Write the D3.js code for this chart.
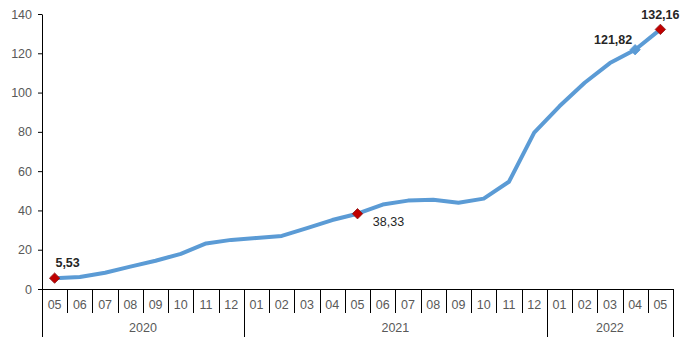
<!DOCTYPE html>
<html>
<head>
<meta charset="utf-8">
<script src="https://cdn.jsdelivr.net/npm/d3@7"></script>
<style>
  html, body { margin: 0; padding: 0; background: #fff; }
  svg { display: block; font-family: "Liberation Sans", Arial, sans-serif; }
</style>
</head>
<body>
<svg id="chart" width="688" height="344"></svg>
<script>
// Monthly series, 2020-05 .. 2022-05
const months = ["05","06","07","08","09","10","11","12",
                "01","02","03","04","05","06","07","08","09","10","11","12",
                "01","02","03","04","05"];
const years = ["2020","2020","2020","2020","2020","2020","2020","2020",
               "2021","2021","2021","2021","2021","2021","2021","2021","2021","2021","2021","2021",
               "2022","2022","2022","2022","2022"];
const values = [5.53, 6.1, 8.3, 11.4, 14.4, 17.9, 23.2, 25.0,
                26.0, 27.0, 31.0, 35.1, 38.33, 43.0, 45.0, 45.4, 43.9, 46.0, 54.6, 79.6,
                93.0, 105.0, 115.0, 121.82, 132.16];
const yTicks = [0, 20, 40, 60, 80, 100, 120, 140];
// Highlighted points: index, marker colour, bold label
const highlightIdx = [0, 12, 23, 24];
const highlightColor = ["#C00000", "#C00000", "#5B9BD5", "#C00000"];
const highlightBold = [true, false, true, true];

const svg = d3.select("#chart");
const plotLeft = 42, plotRight = 673, plotTop = 14, plotBottom = 289;

const x = d3.scaleBand().domain(d3.range(months.length)).range([plotLeft, plotRight]).padding(0);
const y = d3.scaleLinear().domain([0, 140]).range([plotBottom, plotTop]);
const cx = i => x(i) + x.bandwidth() / 2;

const textColor = "#595959";
const fmt = v => v.toFixed(2).replace(".", ",");

// Y axis
const yAxis = svg.append("g")
  .attr("transform", `translate(${plotLeft},0)`)
  .call(d3.axisLeft(y).tickValues(yTicks).tickSize(4).tickPadding(6).tickSizeOuter(0));
yAxis.select(".domain").attr("stroke", "#000");
yAxis.selectAll(".tick line").attr("stroke", "#000");
yAxis.selectAll(".tick text")
  .attr("fill", textColor)
  .style("font-size", "12.5px")
  .style("font-family", "'Liberation Sans', Arial, sans-serif");

// X axis baseline
const xg = svg.append("g");
xg.append("line")
  .attr("x1", plotLeft).attr("x2", plotRight)
  .attr("y1", plotBottom + 0.5).attr("y2", plotBottom + 0.5)
  .attr("stroke", "#000");

// Month separators and labels
const monthSepBottom = 313, yearSepBottom = 337;
d3.range(months.length + 1).forEach(i => {
  const xp = i < months.length ? x(i) : plotRight;
  const isYearEdge = i === 0 || i === months.length || years[i] !== years[i - 1];
  xg.append("line")
    .attr("x1", Math.round(xp) + 0.5).attr("x2", Math.round(xp) + 0.5)
    .attr("y1", plotBottom).attr("y2", isYearEdge ? yearSepBottom : monthSepBottom)
    .attr("stroke", "#000");
});
xg.selectAll("text.month")
  .data(months)
  .join("text")
  .attr("class", "month")
  .attr("x", (d, i) => cx(i))
  .attr("y", 305)
  .attr("dy", "0.35em")
  .attr("text-anchor", "middle")
  .attr("fill", textColor)
  .style("font-size", "12.5px")
  .text(d => d);

// Year labels centred under their months
const yearGroups = d3.groups(d3.range(months.length), i => years[i]);
xg.selectAll("text.year")
  .data(yearGroups)
  .join("text")
  .attr("class", "year")
  .attr("x", d => (x(d[1][0]) + x(d[1][d[1].length - 1]) + x.bandwidth()) / 2)
  .attr("y", 328)
  .attr("dy", "0.35em")
  .attr("text-anchor", "middle")
  .attr("fill", textColor)
  .style("font-size", "12.5px")
  .text(d => d[0]);

// Line
const line = d3.line().x((d, i) => cx(i)).y(d => y(d));
svg.append("path")
  .datum(values)
  .attr("d", line)
  .attr("fill", "none")
  .attr("stroke", "#5B9BD5")
  .attr("stroke-width", 4)
  .attr("stroke-linejoin", "round")
  .attr("stroke-linecap", "round");

// Diamond markers
const diamond = r => `M0,${-r}L${r},0L0,${r}L${-r},0Z`;
highlightIdx.forEach((idx, k) => {
  svg.append("path")
    .attr("d", diamond(5.2))
    .attr("transform", `translate(${cx(idx)},${y(values[idx])})`)
    .attr("fill", highlightColor[k])
    .attr("stroke", highlightColor[k] === "#C00000" ? "#8B1A1A" : "#5B9BD5")
    .attr("stroke-width", 0.8);
});

// Value labels
const labelOffsets = [[13, -16], [31, 7.5], [-22, -10], [0, -14.5]];
highlightIdx.forEach((idx, k) => {
  svg.append("text")
    .attr("x", cx(idx) + labelOffsets[k][0])
    .attr("y", y(values[idx]) + labelOffsets[k][1])
    .attr("dy", "0.35em")
    .attr("text-anchor", "middle")
    .attr("fill", "#262626")
    .style("font-size", "12.5px")
    .style("font-weight", highlightBold[k] ? "bold" : "normal")
    .text(fmt(values[idx]));
});
</script>
</body>
</html>
